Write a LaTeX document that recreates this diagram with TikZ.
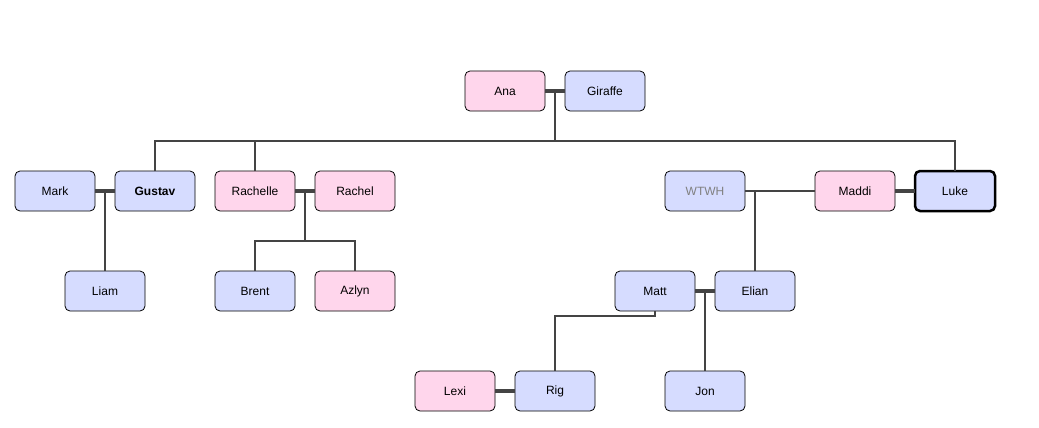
\documentclass[tikz,border=0pt]{standalone}
\usepackage{fontspec}
\setmainfont{Liberation Sans}
\usetikzlibrary{positioning, calc}

\definecolor{boyblue}{RGB}{214,220,255}
\definecolor{girlpink}{RGB}{255,214,236}
\definecolor{linegray}{RGB}{68,68,68}

\begin{document}
\begin{tikzpicture}[x=1pt, y=-1pt]
    \tikzset{
      person/.style={
        rectangle, rounded corners=5pt,
        draw=black, line width=0.8pt, outer sep=0pt,
        minimum width=80pt, minimum height=40pt,
        inner sep=0pt, font=\fontsize{12}{14}\selectfont
      },
      male/.style={person, fill=boyblue},
      female/.style={person, fill=girlpink},
      couple/.style={draw=linegray, line width=4pt},
      kin/.style={draw=linegray, line width=2pt}
    }
    \useasboundingbox (0,0) rectangle (1039,428);

    % Row 1
    \node[female] (ana) at (505,91) {Ana};
    \node[male, right=20pt of ana] (giraffe) {Giraffe};

    % Row 2
    \node[male] (mark) at (55,191) {Mark};
    \node[male, right=20pt of mark] (gustav) {\textbf{Gustav}};
    \node[female, right=20pt of gustav] (rachelle) {Rachelle};
    \node[female, right=20pt of rachelle] (rachel) {Rachel};
    \node[male, text=gray] (wtwh) at (705,191) {WTWH};
    \node[female] (maddi) at (855,191) {Maddi};
    \node[male, right=20pt of maddi, line width=2.5pt] (luke) {Luke};

    % Row 3
    \node[male] (liam) at (105,291) {Liam};
    \node[male] (brent) at (255,291) {Brent};
    \node[female, right=20pt of brent] (azlyn) {Azlyn};
    \node[male] (matt) at (655,291) {Matt};
    \node[male, right=20pt of matt] (elian) {Elian};

    % Row 4
    \node[female] (lexi) at (455,391) {Lexi};
    \node[male, right=20pt of lexi] (rig) {Rig};
    \node[male] (jon) at (705,391) {Jon};

    % couple midpoints
    \coordinate (ag) at ($(ana.east)!0.5!(giraffe.west)$);
    \coordinate (mg) at ($(mark.east)!0.5!(gustav.west)$);
    \coordinate (rr) at ($(rachelle.east)!0.5!(rachel.west)$);
    \coordinate (me) at ($(matt.east)!0.5!(elian.west)$);

    % children
    \draw[kin] (ag) -- ++(0,50) coordinate (bus);
    \draw[kin] (gustav.north) |- (bus) -| (luke.north);
    \draw[kin] (rachelle.north) -- (rachelle.north |- bus);
    \draw[kin] (mg) -- (liam.north);
    \draw[kin] (rr) -- ++(0,50) coordinate (rrb);
    \draw[kin] (brent.north) |- (rrb) -| (azlyn.north);
    \draw[kin] (wtwh) -- (maddi);
    \draw[kin] (elian.north) -- (elian.north |- wtwh.east);
    \draw[kin] (me) -- (jon.north);
    \draw[kin] (matt.south) -- ++(0,5) -| (rig.north);

    % couples
    \draw[couple] (ana) -- (giraffe);
    \draw[couple] (mark) -- (gustav);
    \draw[couple] (rachelle) -- (rachel);
    \draw[couple] (maddi) -- (luke);
    \draw[couple] (matt) -- (elian);
    \draw[couple] (lexi) -- (rig);
  \end{tikzpicture}
\end{document}
